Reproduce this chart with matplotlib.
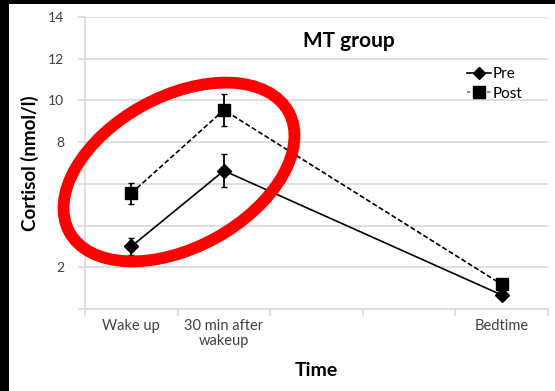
import matplotlib.pyplot as plt
from matplotlib.patches import Ellipse, Rectangle
from matplotlib.lines import Line2D

# time points (two empty slots keep the bedtime point out to the right)
categories = ['Wake up', '30 min after\nwakeup', '', '', 'Bedtime']
sample_idx = [0, 1, 4]

pre_mean = [3.0, 6.63, 0.67]
pre_err = [0.42, 0.8, 0.1]
post_mean = [5.55, 9.54, 1.18]
post_err = [0.5, 0.76, 0.1]

yticks = [0, 2, 4, 6, 8, 10, 12, 14]
ytick_labels = ['', '2', '', '', '8', '10', '12', '14']

plt.rcParams['font.family'] = ['Lato', 'DejaVu Sans']

fig = plt.figure(figsize=(5.55, 3.91), dpi=100, facecolor='black')
# white page inside the black screen border
fig.patches.append(Rectangle((9 / 555, 0), 1 - 9 / 555, 387 / 391,
                             transform=fig.transFigure, facecolor='white',
                             edgecolor='none', zorder=-10))

ax = fig.add_axes([85 / 555, 82 / 391, 463 / 555, 292 / 391])
ax.set_facecolor('white')

grid_c = '#d9d9d9'
ax.set_ylim(0, 14)
ax.set_yticks(yticks)
ax.set_yticklabels(ytick_labels)
ax.yaxis.grid(True, color=grid_c, lw=1.2)
ax.set_axisbelow(True)

ax.set_xlim(-0.5, len(categories) - 0.5)
ax.set_xticks(range(len(categories)))
ax.set_xticklabels(categories, fontsize=10.5, color='#404040', linespacing=1.15)
ax.set_xticks([i - 0.5 for i in range(len(categories) + 1)], minor=True)
ax.tick_params(axis='x', which='major', length=0, pad=7)
ax.tick_params(axis='x', which='minor', length=5, color=grid_c, width=1.2)
ax.tick_params(axis='y', length=5, color=grid_c, width=1.2, labelsize=10,
               labelcolor='#404040', pad=10)

for side in ['top', 'right']:
    ax.spines[side].set_visible(False)
for side in ['left', 'bottom']:
    ax.spines[side].set_color(grid_c)
    ax.spines[side].set_linewidth(1.2)

ax.errorbar(sample_idx, pre_mean, yerr=pre_err, color='black', lw=1.2,
            marker='D', ms=7, capsize=2.5, elinewidth=1.3, zorder=3)
ax.errorbar(sample_idx, post_mean, yerr=post_err, color='black', lw=1.2,
            ls=(0, (3, 1.5)), marker='s', ms=9, capsize=2.5, elinewidth=1.3,
            zorder=3)

ax.set_title('MT group', fontsize=15, fontweight='bold', x=0.57, y=0.87)
ax.set_xlabel('Time', fontsize=14, fontweight='bold', labelpad=10)
ax.set_ylabel('Cortisol (nmol/l)', fontsize=13.5, fontweight='bold')
ax.yaxis.set_label_coords(-0.1, 0.5)

handles = [
    Line2D([], [], color='black', lw=1.2, marker='D', ms=6),
    Line2D([], [], color='#d95050', lw=1.2, ls=(0, (2, 2)), marker='s', ms=8,
           markerfacecolor='black', markeredgecolor='black'),
]
ax.legend(handles, ['Pre', 'Post'], loc='upper left',
          bbox_to_anchor=(0.795, 0.875), frameon=False, fontsize=11,
          handlelength=1.6, handletextpad=0.1, labelspacing=0.35)

# red ring drawn over the morning points, in pixel units
ov = fig.add_axes([0, 0, 1, 1])
ov.set_xlim(0, 555)
ov.set_ylim(0, 391)
ov.axis('off')
ov.add_patch(Ellipse((179, 391 - 172), 250, 151, angle=28.7, fill=False,
                     edgecolor='#ff0000', lw=8.5))

fig.savefig('out.png', dpi=100, facecolor=fig.get_facecolor())
